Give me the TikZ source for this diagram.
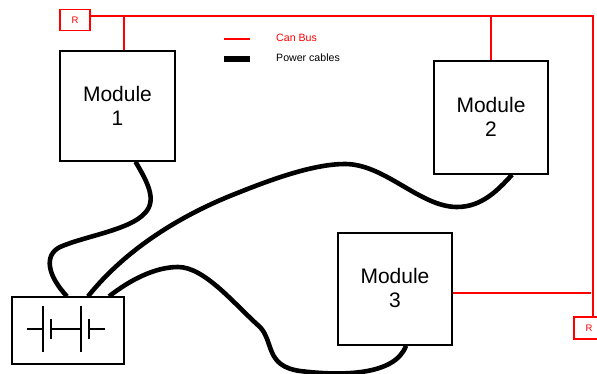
\documentclass[tikz,border=0pt]{standalone}
\usepackage{fontspec}
\setmainfont{Liberation Sans}
\begin{document}
\begin{tikzpicture}[x=1pt,y=-1pt,
  modulebox/.style={draw=black,line width=1.5pt,fill=white,inner sep=0pt,minimum width=#1,align=center,font=\fontsize{21}{24}\selectfont},
  termbox/.style={draw=red,line width=1.5pt,fill=white,inner sep=0pt,text=red,font=\fontsize{9.5}{10}\selectfont},
  canbus/.style={draw=red,line width=1.4pt},
  power/.style={draw=black,line width=4.6pt},
  legendpower/.style={draw=black,line width=5.4pt},
  cell/.style={draw=black,line width=1.2pt},
  legendtext/.style={inner sep=0pt,anchor=west,font=\fontsize{10.6}{12}\selectfont}]
\useasboundingbox (0,0) rectangle (597,374);
% boxes
\node[modulebox=115pt,minimum height=110pt] (m1) at (117.5,106) {Module\\1};
\node[modulebox=114pt,minimum height=113pt] (m2) at (491,117.5) {\raisebox{1pt}{Module}\\\raisebox{1pt}{2}};
\node[modulebox=114pt,minimum height=112pt] (m3) at (395,289) {\raisebox{2pt}{Module}\\\raisebox{2pt}{3}};
\node[draw=black,line width=1.2pt,minimum width=112pt,minimum height=67pt,inner sep=0pt] (bat) at (68,330.5) {};
\node[termbox,minimum width=30pt,minimum height=21pt] (r1) at (75,20) {R};
\node[termbox,minimum width=30pt,minimum height=22pt] (r2) at (589,328) {R};
% can bus
\coordinate (corner) at (593,16);
\coordinate (r1out) at (r1.east |- corner);
\coordinate (m1top) at ([xshift=6.5pt]m1.north);
\coordinate (tap1) at (m1top |- corner);
\coordinate (tap2) at (m2.north |- corner);
\coordinate (m3port) at ([yshift=-4pt]m3.east);
\coordinate (tap3) at (corner |- m3port);
\draw[canbus] (r1out) -- (corner) -- (corner |- r2.north);
\draw[canbus] (tap1) -- (m1top);
\draw[canbus] (tap2) -- (m2.north);
\draw[canbus] (m3port) -- ([xshift=-2pt]tap3);
% power cables
\coordinate (b1) at ([xshift=-1pt]bat.north);
\coordinate (b2) at ([xshift=20pt]bat.north);
\coordinate (b3) at ([xshift=41pt]bat.north);
\coordinate (p1) at ([xshift=18pt]m1.south);
\coordinate (p2) at ([xshift=21pt]m2.south);
\coordinate (p3) at ([xshift=11pt]m3.south);
\draw[power] (p1) .. controls (148,183) and (157,200) .. (145,213)
  .. controls (130,230) and (85,236) .. (60,247)
  .. controls (44,255) and (47,275) .. (b1);
\draw[power] (b2) .. controls (125,250) and (180,215) .. (240,192)
  .. controls (275,178) and (315,164) .. (345,164)
  .. controls (385,164) and (420,207) .. (457,207)
  .. controls (482,207) and (498,190) .. (p2);
\draw[power] (b3) .. controls (130,280) and (155,267) .. (178,267)
  .. controls (205,267) and (235,305) .. (260,327)
  .. controls (274,342) and (265,366) .. (300,371)
  .. controls (340,376) and (395,376) .. (p3);
% battery symbol
\coordinate (c) at ([yshift=1.5pt]bat.center);
\draw[cell] ([xshift=-41pt]c) -- ([xshift=-25pt]c);
\draw[cell] ([xshift=-25pt,yshift=-23pt]c) -- ([xshift=-25pt,yshift=23pt]c);
\draw[cell] ([xshift=-17pt,yshift=-10pt]c) -- ([xshift=-17pt,yshift=10pt]c);
\draw[cell] ([xshift=-17pt]c) -- ([xshift=13pt]c);
\draw[cell] ([xshift=13pt,yshift=-23pt]c) -- ([xshift=13pt,yshift=23pt]c);
\draw[cell] ([xshift=21pt,yshift=-10pt]c) -- ([xshift=21pt,yshift=10pt]c);
\draw[cell] ([xshift=21pt]c) -- ([xshift=37pt]c);
% legend
\coordinate (l1a) at (224,39); \coordinate (l1b) at (250,39);
\coordinate (l2a) at (224,59); \coordinate (l2b) at (250,59);
\draw[canbus] (l1a) -- (l1b);
\draw[legendpower] (l2a) -- (l2b);
\node[legendtext,text=red] (t1) at (276,37.5) {Can Bus};
\node[legendtext] (t2) at (276,57.5) {Power cables};
\end{tikzpicture}
\end{document}
